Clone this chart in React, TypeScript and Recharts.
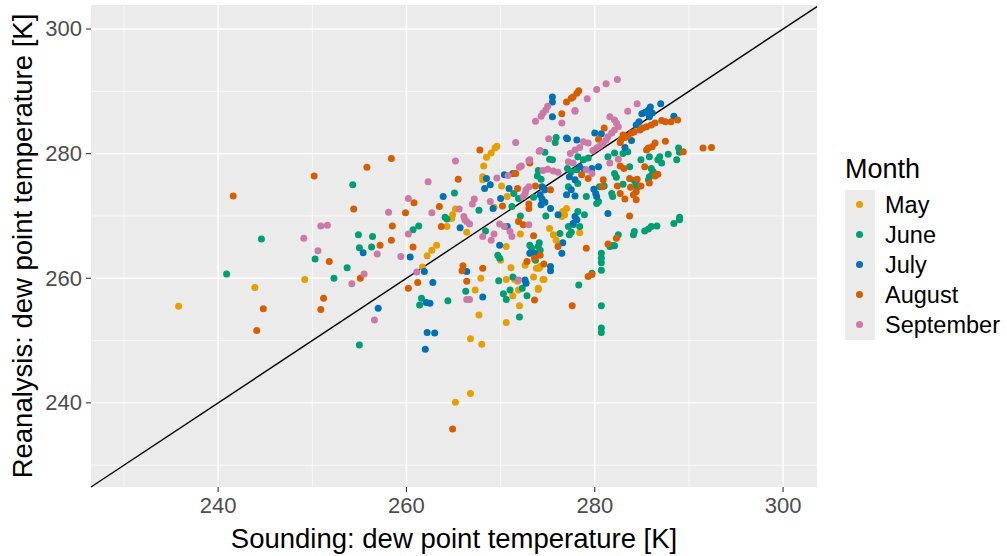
import React from 'react';
import { ScatterChart, Scatter, XAxis, YAxis, CartesianGrid, ReferenceLine, Legend } from 'recharts';

const MONTHS = ['May', 'June', 'July', 'August', 'September'];
const COLORS = ['#E69F00', '#009E73', '#0072B2', '#D55E00', '#CC79A7'];
const X_TICKS = [240, 260, 280, 300];
const Y_TICKS = [240, 260, 280, 300];
const MINOR = [230, 250, 270, 290];
const X_DOMAIN: [number, number] = [226.5, 303.6];
const Y_DOMAIN: [number, number] = [226.5, 303.85];
const IDENTITY: [number, number] = [226.5, 303.6];

const MAY: [number, number][] = [
  [249.2,259.8],[243.9,258.5],[235.8,255.5],
  [262.2,263.6],[262.7,264.5],[263.2,265.3],[261.7,261.8],
  [268.5,279.4],[269.0,280.1],[269.4,280.9],[269.6,281.2],[268.2,278.0],
  [268.1,276.3],[268.1,275.8],[270.1,274.8],
  [265.2,271.1],[264.9,270.2],[264.8,269.6],[266.4,267.4],
  [270.7,273.1],[269.3,271.4],[264.3,268.3],
  [272.1,267.1],[272.6,262.1],[274.1,261.6],
  [275.2,268.0],[275.6,267.0],[275.9,266.1],
  [270.6,265.1],[270.0,262.9],[271.1,261.7],[267.9,260.0],[270.6,259.8],[271.5,259.8],[271.8,259.5],[273.5,260.2],[274.6,259.8],
  [267.3,258.1],[271.9,258.1],[271.3,257.2],[274.0,258.4],[272.0,255.6],[267.7,254.1],[270.6,252.9],[266.8,250.3],
  [268.0,249.4],[266.8,241.5],[265.2,240.1],
  [274.5,259.8],[274.0,258.2],[273.8,261.6],[274.2,261.9],
  [277.0,271.2],[278.4,267.3],[276.6,270.7],[276.5,269.9],[276.8,270.2],
];

const JUNE: [number, number][] = [
  [244.6,266.3],[250.3,263.1],[240.9,260.7],[252.3,260.0],
  [254.3,275.0],[261.3,268.4],[260.7,267.8],[254.9,267.0],[256.4,266.7],[255.0,264.9],[256.3,265.0],[253.7,261.7],[261.6,256.8],[261.4,255.7],
  [265.1,273.7],[267.7,270.9],[264.3,269.5],
  [275.9,282.6],[275.8,281.8],[274.7,280.2],[275.2,279.1],[275.5,279.0],[274.0,277.3],
  [273.9,276.4],[274.3,275.9],[271.4,273.6],[271.9,272.8],[273.5,273.0],[271.2,271.5],[264.1,269.8],[274.8,270.0],[272.1,270.0],
  [289.0,269.8],[288.9,280.9],[289.0,280.2],[287.8,279.9],[283.5,280.3],[283.0,280.0],[282.1,280.1],[281.4,279.5],[286.9,279.5],[286.7,279.0],[287.1,278.5],[285.8,279.5],[284.9,279.0],[288.7,279.0],
  [283.7,277.9],[286.0,277.6],[286.2,277.1],[285.8,276.3],[285.7,275.8],[286.1,276.6],[282.1,276.8],[282.3,276.2],[283.0,275.1],[284.2,275.7],[284.4,275.1],[284.5,274.6],
  [281.8,273.6],[281.9,273.1],[281.0,274.8],[280.5,274.7],[280.4,272.3],[280.2,272.0],[279.1,273.1],[278.2,270.7],[278.9,270.2],
  [278.2,279.5],[278.8,279.0],[279.3,279.3],[277.1,277.6],[277.5,277.1],[278.1,277.4],[278.2,275.2],[277.2,274.7],
  [268.4,267.6],[274.1,265.7],[274.0,265.1],[274.2,264.5],[273.7,262.9],[273.1,265.3],[273.3,264.8],[269.7,263.7],[269.9,263.2],
  [269.8,259.6],[271.3,260.2],[272.3,258.4],[271.0,258.1],[270.3,257.5],[270.6,256.6],[266.3,257.9],[272.8,257.2],[264.4,256.4],[272.0,253.8],
  [255.0,249.3],[280.7,255.6],[280.7,252.0],[280.7,251.3],[278.3,258.9],[280.7,264.0],[280.7,263.2],[280.7,262.5],[280.7,261.3],[282.0,265.2],[281.6,265.1],
  [288.4,268.8],[289.0,269.4],[286.6,268.4],[286.0,268.3],[285.7,267.9],[285.3,267.6],[284.2,267.5],[284.1,267.0],[282.5,267.0],[282.1,265.2],[281.8,265.2],[279.7,260.8],
  [278.4,268.3],[277.5,267.4],[277.7,268.6],[277.2,268.3],[277.3,267.0],[276.3,267.2],
];

const JULY: [number, number][] = [
  [255.4,264.1],[260.4,263.4],[261.9,261.1],[262.8,259.3],[262.1,256.1],[262.5,256.0],[257.0,255.2],
  [268.5,276.0],[268.9,275.0],[268.3,274.4],[263.9,273.1],[265.7,268.1],
  [275.5,289.1],[275.5,288.3],[275.5,285.9],[271.3,276.8],[270.4,276.6],
  [274.4,274.7],[274.7,274.2],[274.2,273.4],[274.4,272.7],[274.7,272.2],[270.9,274.4],[270.0,272.8],[274.3,271.8],[275.3,271.2],[276.1,270.2],
  [287.0,288.0],[285.9,287.5],[285.7,287.0],[285.3,286.6],[286.1,286.5],[285.8,285.9],[285.0,286.4],[284.7,285.1],[284.4,284.6],[288.4,286.0],
  [280.0,283.3],[280.7,283.2],[283.9,282.1],[283.2,281.0],
  [279.9,274.3],[280.1,273.6],[280.2,273.1],[277.9,273.2],[281.4,270.4],
  [277.0,282.5],[278.1,282.2],[278.4,277.9],[278.9,277.4],[279.7,277.6],[280.4,277.9],[277.3,276.3],[277.9,275.8],[277.5,274.2],[277.0,273.4],
  [270.7,268.3],[273.1,264.0],[273.6,264.0],[275.3,261.9],[275.3,261.2],[276.5,264.0],[269.9,265.3],[272.6,259.7],[272.7,259.2],[268.1,257.0],
  [262.2,251.3],[263.0,251.2],[262.0,248.6],[266.4,261.1],
  [269.2,271.2],[277.1,282.4],
  [276.6,265.7],[277.9,269.9],[277.7,268.8],[278.1,269.4],
];

const AUGUST: [number, number][] = [
  [250.2,276.4],[241.6,273.2],[251.8,262.7],[251.2,256.8],[244.8,255.1],[250.9,255.0],[244.1,251.6],
  [255.8,277.8],[254.4,271.1],[260.8,272.1],[259.9,270.5],[258.5,268.4],[258.4,266.1],[257.2,265.3],[260.7,265.0],[255.1,260.0],[261.2,259.3],[260.2,258.4],
  [258.4,279.2],[265.5,275.9],[267.8,280.6],[263.5,271.5],[263.7,268.3],
  [271.6,276.8],[273.7,274.8],[275.3,274.2],[271.8,274.4],[273.0,271.9],[270.2,271.6],[273.0,271.2],
  [278.3,290.1],[278.1,289.7],[277.7,289.1],[277.5,288.9],[277.0,288.3],
  [288.8,285.4],[288.1,285.1],[287.5,285.1],[287.1,285.3],
  [286.4,284.9],[286.0,284.6],[285.5,284.3],[285.1,284.1],[284.8,283.8],[284.2,283.5],[283.9,283.3],[283.5,282.8],[283.2,282.6],[282.8,282.3],
  [281.0,284.1],[280.4,282.3],[282.7,281.8],[283.0,283.0],[287.5,282.0],[286.4,281.7],[286.1,281.1],[285.7,280.9],[285.5,280.6],[289.4,280.3],
  [282.7,278.0],[283.1,277.6],[285.3,277.9],[286.7,276.7],[283.7,276.0],[283.8,274.6],[284.9,274.8],[284.4,273.9],[284.1,273.4],[282.4,274.8],[282.7,273.6],[283.2,272.7],[284.4,272.6],[283.7,270.0],
  [278.6,276.6],[279.3,276.0],[276.5,286.4],[273.1,278.5],[271.5,276.8],
  [271.9,269.1],[272.4,268.6],[273.5,266.8],[274.2,263.7],[273.6,263.2],[272.8,262.7],[274.6,262.3],[276.1,265.1],[268.1,261.6],[266.4,259.5],[273.6,256.5],
  [264.9,235.8],[277.6,255.6],[279.3,260.3],[279.7,260.6],[279.1,264.8],[281.4,265.5],[282.3,266.4],
  [266.0,262.0],[265.9,261.2],
  [291.5,280.9],[292.4,281.0],
  [280.9,275.8],[280.8,274.7],[286.4,276.4],[285.8,275.3],[284.5,275.9],
];

const SEPTEMBER: [number, number][] = [
  [250.9,268.4],[251.6,268.5],[249.1,266.4],[250.6,264.4],
  [262.3,275.5],[260.2,272.8],[258.1,270.6],[262.7,270.5],[260.2,267.1],[256.9,263.9],[259.4,263.5],[255.5,260.7],[254.2,259.1],[261.1,261.0],
  [265.2,278.8],[271.6,281.8],[267.2,272.7],[267.0,271.9],[265.6,271.1],[266.4,269.1],[266.2,269.4],[266.7,268.7],
  [275.0,287.6],[274.8,287.0],[274.5,286.5],[274.3,286.0],[273.7,285.2],[275.1,282.4],[274.1,280.4],[273.0,278.9],[272.0,277.8],
  [274.5,277.3],[275.0,277.5],[275.6,277.2],[276.1,277.0],
  [269.6,276.1],[270.8,276.5],[273.0,274.7],[272.7,274.2],[272.6,273.6],[272.4,273.1],[268.9,272.3],[266.1,269.9],
  [282.4,291.9],[281.2,291.2],[280.2,290.3],[279.2,288.8],[277.9,286.8],[284.5,288.0],[283.5,286.8],
  [281.6,285.9],[282.1,285.4],[282.3,284.9],[282.5,284.3],[282.1,283.8],[281.8,283.3],[281.4,282.7],[281.2,282.2],[280.9,281.7],[280.5,281.2],[280.2,280.9],[279.8,280.5],
  [278.8,281.9],[279.3,281.7],[278.4,281.0],[277.9,280.6],[277.4,280.0],[277.2,278.7],[277.7,278.5],[279.1,277.4],[279.7,276.8],
  [282.5,279.1],[281.6,278.5],
  [268.1,266.7],[269.3,267.1],[269.0,266.1],[269.9,268.7],[270.4,268.3],[271.0,267.5],[271.2,266.7],[273.0,268.6],[271.9,259.7],[266.4,256.6],[266.7,256.6],[256.6,253.3],
  [276.5,284.9],[277.9,286.9],[274.2,280.5],[273.1,279.0],[272.2,278.0],
];

const SERIES = [MAY, JUNE, JULY, AUGUST, SEPTEMBER];

const FONT = '"Liberation Sans", Arial, Helvetica, sans-serif';

const toPoints = (arr: [number, number][]) => arr.map(([x, y]) => ({ x, y }));

const XTick = (props: any) => (
  <text x={props.x} y={513} textAnchor="middle" fill="#4D4D4D" fontSize={22} fontFamily={FONT}>
    {props.payload.value}
  </text>
);

const YTick = (props: any) => (
  <text x={82} y={props.y} textAnchor="end" dominantBaseline="central" fill="#4D4D4D" fontSize={22} fontFamily={FONT}>
    {props.payload.value}
  </text>
);

const LegendContent = () => (
  <div style={{ fontFamily: FONT, color: '#000', position: 'relative', width: 170, height: 200 }}>
    <div style={{ position: 'absolute', left: 7, top: 4, fontSize: 27, lineHeight: '30px', whiteSpace: 'nowrap' }}>Month</div>
    <div style={{ position: 'absolute', left: 7, top: 40, width: 30, height: 150, background: '#EBEBEB' }} />
    {MONTHS.map((m, i) => (
      <div key={m}>
        <div style={{ position: 'absolute', left: 18, top: 51 + i * 30, width: 7, height: 7, borderRadius: '50%', background: COLORS[i] }} />
        <div style={{ position: 'absolute', left: 47, top: 40 + i * 30, height: 30, lineHeight: '30px', fontSize: 23.5, whiteSpace: 'nowrap' }}>{m}</div>
      </div>
    ))}
  </div>
);

export default function App() {
  return (
    <div style={{ position: 'absolute', left: 0, top: 0, width: 1007, height: 556, background: '#FFFFFF' }}>
      <ScatterChart width={1007} height={556} margin={{ top: 5, right: 190, bottom: 0, left: 0 }}>
        <CartesianGrid fill="#EBEBEB" stroke="#FFFFFF" strokeWidth={0.7} horizontalValues={MINOR} verticalValues={MINOR} />
        <CartesianGrid stroke="#FFFFFF" strokeWidth={1.4} horizontalValues={Y_TICKS} verticalValues={X_TICKS} />
        <XAxis
          type="number"
          dataKey="x"
          domain={X_DOMAIN}
          ticks={X_TICKS}
          allowDataOverflow
          height={69}
          axisLine={false}
          tickLine={{ stroke: '#333333', strokeWidth: 1.1 }}
          tickSize={5}
          tick={<XTick />}
          label={{ value: 'Sounding: dew point temperature [K]', position: 'insideBottom', offset: 0, dy: -8, fill: '#000', fontSize: 27.5, fontFamily: FONT } as any}
        />
        <YAxis
          type="number"
          dataKey="y"
          domain={Y_DOMAIN}
          ticks={Y_TICKS}
          allowDataOverflow
          width={91}
          axisLine={false}
          tickLine={{ stroke: '#333333', strokeWidth: 1.1 }}
          tickSize={5}
          tick={<YTick />}
          label={{ value: 'Reanalysis: dew point temperature [K]', angle: -90, position: 'insideLeft', offset: 0, dx: 22, fill: '#000', fontSize: 27.5, fontFamily: FONT, style: { textAnchor: 'middle' } } as any}
        />
        <ReferenceLine
          segment={[{ x: IDENTITY[0], y: IDENTITY[0] }, { x: IDENTITY[1], y: IDENTITY[1] }]}
          stroke="#000000"
          strokeWidth={1.4}
          ifOverflow="visible"
        />
        {SERIES.map((s, i) => (
          <Scatter
            key={MONTHS[i]}
            name={MONTHS[i]}
            data={toPoints(s)}
            fill={COLORS[i]}
            isAnimationActive={false}
            shape={(p: any) => <circle cx={p.cx} cy={p.cy} r={3.5} fill={COLORS[i]} />}
          />
        ))}
        <Legend
          layout="vertical"
          align="center"
          verticalAlign="middle"
          content={<LegendContent />}
          wrapperStyle={{ left: 838, top: 150, width: 170, height: 200 }}
        />
      </ScatterChart>
    </div>
  );
}
